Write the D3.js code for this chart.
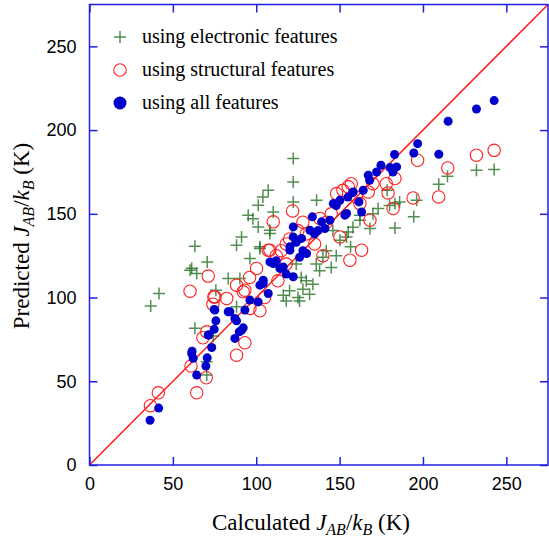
<!DOCTYPE html>
<html>
<head>
<meta charset="utf-8">
<script src="https://cdn.jsdelivr.net/npm/d3@7"></script>
<style>
body { margin: 0; background: #fff; }
svg { display: block; }
.tick-label { font-family: "Liberation Sans", Arial, sans-serif; font-size: 18px; fill: #000; }
.serif { font-family: "Liberation Serif", "Times New Roman", serif; fill: #000; }
</style>
</head>
<body>
<div class="svg-container"></div>
<script>
// values, [calculated, predicted] in K
var electronic = [
  [36.7,95.0],[41.7,102.4],[60.3,116.3],[64.3,114.4],[70.6,121.3],[75.8,104.4],[70.3,53.7],[70.3,61.6],
  [74.2,77.0],[63.2,81.6],[83.2,111.4],[90.2,111.4],[88.2,94.5],[91.2,136.2],[88.2,131.3],[108.2,138.2],
  [63.2,130.7],[61.3,117.5],[96.2,123.3],[102.2,129.3],[122.2,183.0],[122.2,169.0],[107.2,164.1],[122.2,157.1],
  [136.2,158.1],[101.2,155.1],[110.2,151.1],[95.2,149.2],[101.2,142.2],[108.2,140.2],[102.2,130.3],[116.2,101.4],
  [118,98],[120,104],[162.2,149.2],[155.2,139.2],[150.2,134.2],[136,120],[138,116],[140,124],
  [142,128],[145,118],[130,110],[128,105],[125,100],[132,102],[134,108],[214.7,172.4],
  [209.5,167.7],[196.2,158.1],[194.5,148.2],[183.2,156.1],[183.2,141.6],[173.1,153.2],[168.2,141.2],[162.2,146.2],
  [154.2,136.2],[156.6,130.3],[242.7,176.4],[232.1,176.0],[178.5,164.1],[180,155],[186,157],[146,140],
  [124,120],[98,147],[104,160],[127,112],[148,125],[158,142],[170,150],[126,98]
];

var structural = [
  [36.5,35.4],[41.3,43.1],[64.3,43.1],[60.9,59.1],[70.0,52.1],[88.2,65.6],[93.2,73.0],[60.3,103.8],
  [71.2,112.8],[74.6,100.4],[70.3,79.5],[68,76],[82.3,99.5],[88.2,107.4],[93.2,104.4],[96.2,93.5],
  [102.2,92.1],[100.2,117.4],[108.2,128.3],[75.2,100.4],[92.2,103.4],[110.2,145.2],[121.8,151.7],[107.2,128.3],
  [112,125],[115,128],[118,132],[120,135],[125,140],[128,145],[130,138],[138.2,147.2],
  [148.2,162.1],[155.2,166.1],[162.2,156.1],[163.2,128.3],[150.2,136.2],[156.2,122.3],[167.2,163.1],[168.2,146.2],
  [179.1,162.5],[183.2,171.1],[182.1,153.2],[194.1,159.5],[196.8,182.0],[209.4,160.1],[214.9,177.4],[232.1,185.0],
  [242.7,187.9],[160,160],[157,168],[152,164],[170,168],[178,168],[145,150],[142,145],
  [135,132],[118,120],[113,110],[105,100],[140,125],[74,96],[96,112]
];

var allFeatures = [
  [36.3,26.7],[41.5,34.0],[61.3,66.6],[62.2,63.7],[61.5,68],[64.3,53.7],[69.8,59.1],[70.6,64.0],
  [71.6,77.6],[73.3,70.2],[74.8,81.0],[75.8,86.1],[74.8,92.9],[71.2,77.6],[87.2,75.6],[89.8,79.5],
  [92.2,81.9],[83.2,91.5],[88.2,86.1],[93.2,92.5],[96.2,98.5],[101.2,97.4],[102.2,107.4],[104.2,110.4],
  [104.2,108.4],[107.2,102.4],[108.2,121.3],[84.2,91.5],[87.2,87.5],[91.2,80.5],[75.2,92.5],[110.2,120.3],
  [114.2,117.4],[112,122],[116.2,118.3],[120.2,128.3],[122.2,112.4],[118,114],[120.2,130.3],[122.2,136.2],
  [127.2,135.3],[122.2,142.2],[132.2,140.2],[130.2,126.3],[124,133],[133.7,148.2],[139.2,145.2],[144.2,146.2],
  [141.2,141.2],[135,138],[146.2,156.1],[150.2,158.1],[153.2,149.2],[157.8,162.7],[158.2,163.1],[164.2,164.1],
  [161.6,157.1],[163.2,151.1],[154.2,150.2],[167.2,173.0],[172.2,175.0],[168,170],[174.8,179.0],[180.2,177.6],
  [184.2,178.0],[183,185.4],[182,175],[194.5,186.3],[196.8,191.9],[209.5,185.6],[215.1,205.3],[232.1,212.6],
  [242.7,217.6],[128,128],[126,124],[137,140],[148,155],[155,160]
];

var tickValues = [0, 50, 100, 150, 200, 250];
var legendLabels = ["using electronic features", "using structural features", "using all features"];

var width = 549, height = 542;
var margin = { top: 4.5, right: 1, bottom: 77, left: 89.5 };
var chartWidth = width - margin.left - margin.right;
var chartHeight = height - margin.top - margin.bottom;

var svg = d3.select(".svg-container").append("svg")
    .attr("width", width)
    .attr("height", height);

var g = svg.append("g")
    .attr("transform", `translate(${margin.left}, ${margin.top})`);

var xScale = d3.scaleLinear().domain([0, 275]).range([0, chartWidth]);
var yScale = d3.scaleLinear().domain([0, 275]).range([chartHeight, 0]);

var frameColor = "#2020e0";

// y = x line
g.append("line")
    .attr("x1", xScale(0)).attr("y1", yScale(0))
    .attr("x2", xScale(275)).attr("y2", yScale(275))
    .attr("stroke", "#ff1a1a")
    .attr("stroke-width", 1.5);

var plusSize = 6;
function plusPath(cx, cy) {
    return `M${cx - plusSize},${cy}H${cx + plusSize}M${cx},${cy - plusSize}V${cy + plusSize}`;
}

g.selectAll(".electronic").data(electronic).enter().append("path")
    .classed("electronic", true)
    .attr("d", d => plusPath(xScale(d[0]), yScale(d[1])))
    .attr("stroke", "#1a6a1a")
    .attr("stroke-opacity", 0.75)
    .attr("stroke-width", 1.5)
    .attr("fill", "none");

g.selectAll(".structural").data(structural).enter().append("circle")
    .classed("structural", true)
    .attr("cx", d => xScale(d[0]))
    .attr("cy", d => yScale(d[1]))
    .attr("r", 6.2)
    .attr("fill", "none")
    .attr("stroke", "#ff2020")
    .attr("stroke-width", 1.1);

g.selectAll(".all").data(allFeatures).enter().append("circle")
    .classed("all", true)
    .attr("cx", d => xScale(d[0]))
    .attr("cy", d => yScale(d[1]))
    .attr("r", 4.5)
    .attr("fill", "#0000cc");

// frame + inward ticks on all sides
g.append("rect")
    .attr("width", chartWidth).attr("height", chartHeight)
    .attr("fill", "none")
    .attr("stroke", frameColor)
    .attr("stroke-width", 1.5);

var tickLen = 8;
g.append("g").call(d3.axisBottom(xScale).tickValues(tickValues).tickSize(-tickLen).tickPadding(12).tickFormat(d3.format("d")))
    .attr("transform", `translate(0, ${chartHeight})`)
    .call(a => a.select(".domain").remove());
g.append("g").call(d3.axisTop(xScale).tickValues(tickValues).tickSize(-tickLen).tickFormat(""))
    .call(a => a.select(".domain").remove());
g.append("g").call(d3.axisLeft(yScale).tickValues(tickValues).tickSize(-tickLen).tickPadding(13).tickFormat(d3.format("d")))
    .call(a => a.select(".domain").remove());
g.append("g").call(d3.axisRight(yScale).tickValues(tickValues).tickSize(-tickLen).tickFormat(""))
    .attr("transform", `translate(${chartWidth}, 0)`)
    .call(a => a.select(".domain").remove());

g.selectAll(".tick line").attr("stroke", frameColor).attr("stroke-width", 1.5);
g.selectAll(".tick text").attr("class", "tick-label").attr("font-size", null).attr("font-family", null);

// legend
var legend = svg.append("g").attr("transform", "translate(120, 0)");
var legendY = [37, 70, 103];
legend.append("path").attr("d", plusPath(0, legendY[0]))
    .attr("stroke", "#1a6a1a").attr("stroke-opacity", 0.75).attr("stroke-width", 1.5);
legend.append("circle").attr("cx", 0).attr("cy", legendY[1]).attr("r", 6.2)
    .attr("fill", "none").attr("stroke", "#ff2020").attr("stroke-width", 1.1);
legend.append("circle").attr("cx", 0).attr("cy", legendY[2]).attr("r", 6.5).attr("fill", "#0000cc");
legend.selectAll("text").data(legendLabels).enter().append("text")
    .attr("class", "serif")
    .attr("x", 22)
    .attr("y", (d, i) => legendY[i] + 6)
    .attr("font-size", 20)
    .text(d => d);

// axis titles
function title(sel, prefix) {
    sel.append("tspan").text(prefix + " ");
    sel.append("tspan").attr("font-style", "italic").text("J");
    sel.append("tspan").attr("font-style", "italic").attr("font-size", 16).attr("dy", 5).text("AB");
    sel.append("tspan").attr("dy", -5).text("/");
    sel.append("tspan").attr("font-style", "italic").text("k");
    sel.append("tspan").attr("font-style", "italic").attr("font-size", 16).attr("dy", 5).text("B");
    sel.append("tspan").attr("dy", -5).text(" (K)");
}

svg.append("text")
    .attr("class", "serif")
    .attr("x", 311)
    .attr("y", 530)
    .attr("text-anchor", "middle")
    .attr("font-size", 23)
    .call(title, "Calculated");

svg.append("text")
    .attr("class", "serif")
    .attr("transform", `translate(29, 236) rotate(-90)`)
    .attr("text-anchor", "middle")
    .attr("font-size", 23)
    .call(title, "Predicted");
</script>
</body>
</html>
